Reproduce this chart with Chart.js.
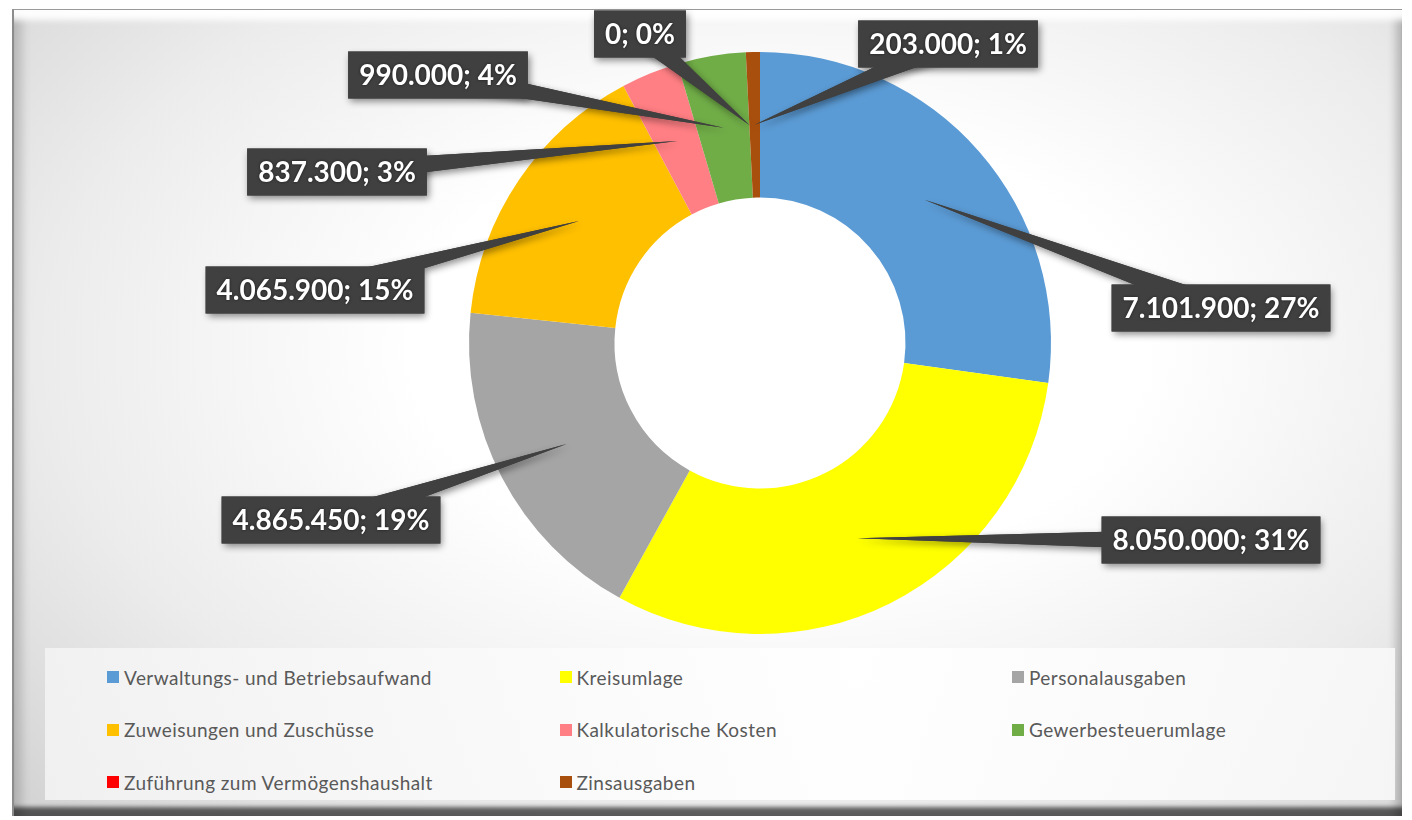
<!DOCTYPE html>
<html>
<head>
<meta charset="utf-8">
<script src="https://cdn.jsdelivr.net/npm/chart.js@4.4.1/dist/chart.umd.min.js"></script>
<style>
  html, body { margin:0; padding:0; width:1412px; height:820px; overflow:hidden; background:#ffffff; }
  #frame {
    position:absolute; left:12px; top:9px; width:1390px; height:807px; box-sizing:border-box;
    border-top:1px solid #9a9a9a; border-left:2px solid #8c8c8c;
    background: radial-gradient(ellipse 75% 80% at 55% 42%, #ffffff 35%, #ececec 70%, #d4d4d4 100%);
    box-shadow:
      inset 0 18px 6px -8px rgba(255,255,255,0.95),
      inset 14px 0 10px -6px rgba(0,0,0,0.16),
      inset -12px 0 10px -6px rgba(0,0,0,0.22),
      inset 0 -12px 4px -3px rgba(0,0,0,0.6);
  }
  #legendBox {
    position:absolute; left:45px; top:648px; width:1350px; height:152px;
    background: linear-gradient(90deg, rgba(243,243,243,0.9), rgba(255,255,255,0.95) 60%, rgba(248,248,248,0.9));
  }
  .li { position:absolute; height:20px; display:flex; align-items:center; white-space:nowrap;
        font-family: Lato, "Open Sans", sans-serif; font-size:19px; letter-spacing:0.45px; color:#595959; }
  .li .sw { width:12px; height:12px; margin-right:5px; flex:none; }
  #c { position:absolute; left:0; top:0; }
</style>
</head>
<body>
<div id="frame"></div>
<div id="legendBox"></div>
<div id="legend"></div>
<canvas id="c" width="1412" height="820"></canvas>
<script>
// ---- data ----
const categories = [
  "Verwaltungs- und Betriebsaufwand",
  "Kreisumlage",
  "Personalausgaben",
  "Zuweisungen und Zuschüsse",
  "Kalkulatorische Kosten",
  "Gewerbesteuerumlage",
  "Zuführung zum Vermögenshaushalt",
  "Zinsausgaben"
];
const values = [7101900, 8050000, 4865450, 4065900, 837300, 990000, 0, 203000];
const colors = ["#5B9BD5", "#FFFF00", "#A5A5A5", "#FFC000", "#FF7F84", "#70AD47", "#FF0000", "#A94F0D"];

// ---- label layout (callout box centres, px) ----
const calloutCenters = [[1221,308],[1211,540],[331,520],[315,290],[337,172],[438,75],[640,34],[948,44]];

// percentages rounded to sum 100 (largest remainder)
function percentLabels(vals) {
  const total = vals.reduce((a,b)=>a+b,0);
  const raw = vals.map(v => v/total*100);
  const fl = raw.map(Math.floor);
  let left = 100 - fl.reduce((a,b)=>a+b,0);
  const order = raw.map((r,i)=>[r-Math.floor(r), i]).sort((a,b)=>b[0]-a[0]);
  for (let k=0; k<left; k++) fl[order[k][1]] += 1;
  return fl;
}
const pct = percentLabels(values);
const labelTexts = values.map((v,i)=> v.toLocaleString('de-DE') + "; " + pct[i] + "%");

// ---- HTML legend ----
const legendEl = document.getElementById('legend');
categories.forEach((name,i)=>{
  const col = i % 3, row = Math.floor(i/3);
  const d = document.createElement('div');
  d.className = 'li';
  d.style.left = (107 + col*452.5) + 'px';
  d.style.top = (667 + row*52.5) + 'px';
  d.innerHTML = '<span class="sw" style="background:'+colors[i]+'"></span><span>'+name+'</span>';
  legendEl.appendChild(d);
});

// ---- callout plugin ----
const calloutPlugin = {
  id: 'callouts',
  afterDatasetsDraw(chart) {
    const ctx = chart.ctx;
    const meta = chart.getDatasetMeta(0);
    ctx.save();
    ctx.font = "bold 28px Lato, 'Open Sans', sans-serif";
    const shapes = meta.data.map((arc, i) => {
      const p = arc.getProps(['x','y','startAngle','endAngle','innerRadius','outerRadius'], true);
      const mid = (p.startAngle + p.endAngle)/2;
      const r = (p.innerRadius + p.outerRadius)/2;
      const ax = p.x + Math.cos(mid)*r, ay = p.y + Math.sin(mid)*r;
      const [cx, cy] = calloutCenters[i];
      const txt = labelTexts[i];
      const tw = ctx.measureText(txt).width;
      const bw = tw + 22, bh = 47;
      const dx = ax - cx, dy = ay - cy, len = Math.hypot(dx,dy);
      const px = -dy/len, py = dx/len, hw = 11;
      return {ax, ay, cx, cy, txt, bw, bh, px, py, hw};
    });
    const drawShape = (s) => {
      ctx.beginPath();
      ctx.moveTo(s.cx + s.px*s.hw, s.cy + s.py*s.hw);
      ctx.lineTo(s.ax, s.ay);
      ctx.lineTo(s.cx - s.px*s.hw, s.cy - s.py*s.hw);
      ctx.closePath();
      ctx.fill();
      ctx.fillRect(s.cx - s.bw/2, s.cy - s.bh/2, s.bw, s.bh);
    };
    shapes.forEach(s => {
      ctx.save();
      ctx.fillStyle = '#404040';
      ctx.shadowColor = 'rgba(0,0,0,0.45)';
      ctx.shadowBlur = 7; ctx.shadowOffsetX = 2; ctx.shadowOffsetY = 3;
      drawShape(s);
      ctx.restore();
      ctx.save();
      ctx.fillStyle = '#404040';
      drawShape(s);
      ctx.fillStyle = '#ffffff';
      ctx.textAlign = 'center';
      ctx.textBaseline = 'middle';
      ctx.shadowColor = 'rgba(0,0,0,0.6)';
      ctx.shadowBlur = 3;
      ctx.fillText(s.txt, s.cx, s.cy + 1);
      ctx.restore();
    });
    ctx.restore();
  }
};

new Chart(document.getElementById('c'), {
  type: 'doughnut',
  data: {
    labels: categories,
    datasets: [{ data: values, backgroundColor: colors, borderWidth: 0, hoverOffset: 0 }]
  },
  options: {
    responsive: false,
    animation: false,
    cutout: '50%',
    layout: { padding: { top: 52, bottom: 186, left: 469, right: 361 } },
    plugins: { legend: { display: false }, tooltip: { enabled: false } }
  },
  plugins: [calloutPlugin]
});
</script>
</body>
</html>
